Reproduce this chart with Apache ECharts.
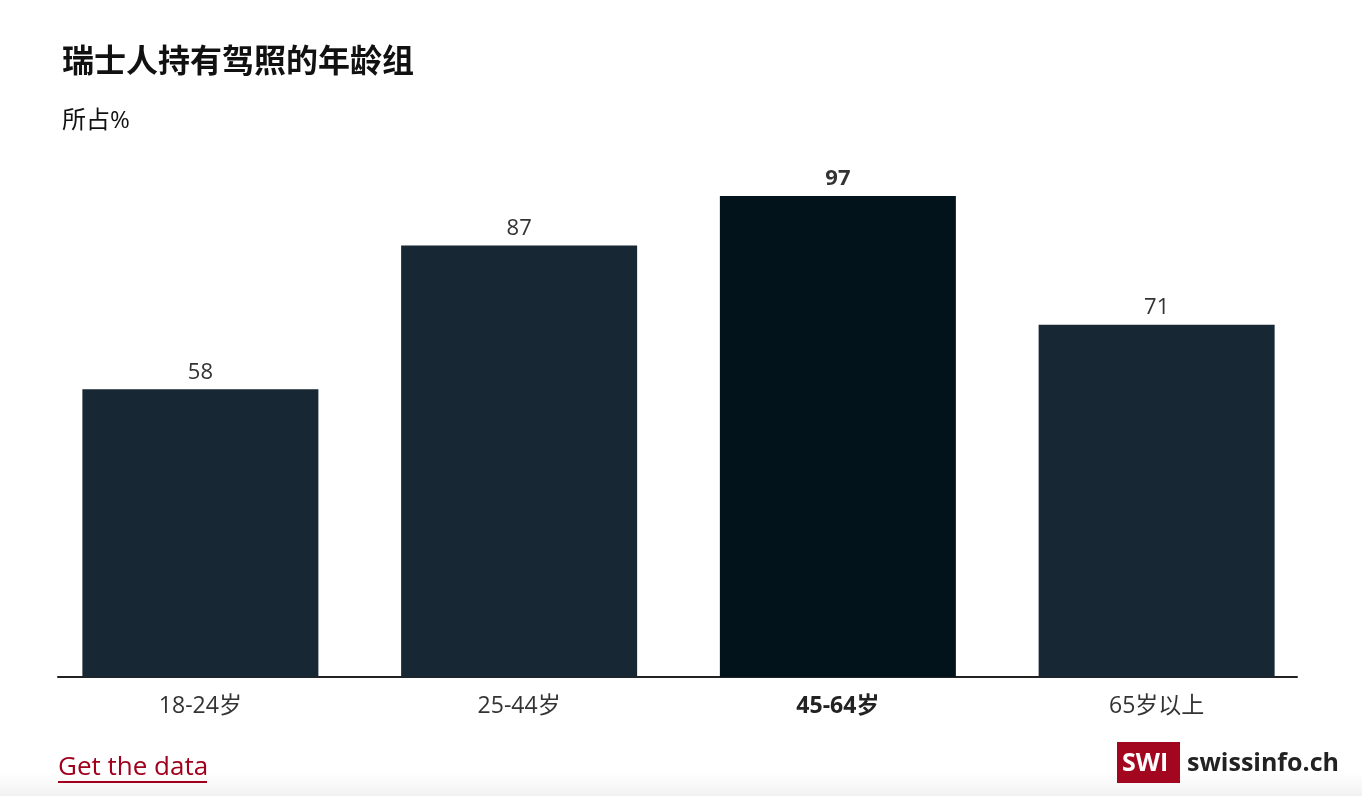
<!DOCTYPE html>
<html>
<head>
<meta charset="utf-8">
<script src="https://cdn.jsdelivr.net/npm/echarts@6/dist/echarts.min.js"></script>
<style>
html,body{margin:0;padding:0;background:#fff;}
#c{width:1362px;height:796px;}
</style>
</head>
<body>
<div id="c"></div>
<script>
const titleText = '瑞士人持有驾照的年龄组';
const subtitleText = '所占%';
const categories = ['18-24岁', '25-44岁', '45-64岁', '65岁以上'];
const values = [58, 87, 97, 71];
const highlightCategory = '45-64岁';
const linkText = 'Get the data';

const FONT = '"Open Sans", "Noto Sans CJK SC", sans-serif';
const barColor = '#172733';
const hiColor = '#03131c';

const chart = echarts.init(document.getElementById('c'), null, {renderer: 'canvas'});

const xData = categories.map(c => c === highlightCategory
  ? {value: c, textStyle: {fontWeight: 'bold', color: '#222'}}
  : c);
const sData = values.map((v, i) => {
  const hi = categories[i] === highlightCategory;
  return {
    value: v,
    itemStyle: {color: hi ? hiColor : barColor},
    label: {fontWeight: hi ? 'bold' : 'normal'}
  };
});

chart.setOption({
  animation: false,
  backgroundColor: '#fff',
  title: [
    {text: titleText, left: 57, top: 42,
     textStyle: {fontFamily: FONT, fontSize: 32, fontWeight: 'bold', color: '#111'}},
    {text: subtitleText, left: 57, top: 104,
     textStyle: {fontFamily: FONT, fontSize: 24, fontWeight: 'normal', color: '#111'}}
  ],
  grid: [
    {left: 41, right: 46, top: 181, bottom: 119},
    {left: 58, right: 65, top: 181, bottom: 119}
  ],
  xAxis: [
    {type: 'category', gridIndex: 0, data: xData,
     axisLine: {show: false}, axisTick: {show: false},
     axisLabel: {fontFamily: FONT, fontSize: 23, color: '#333', margin: 18}},
    {type: 'value', gridIndex: 1, min: 0, max: 1,
     axisLine: {show: true, onZero: false, lineStyle: {color: '#222', width: 2}},
     axisTick: {show: false}, axisLabel: {show: false}, splitLine: {show: false}}
  ],
  yAxis: [
    {type: 'value', gridIndex: 0, min: 0, max: 100, show: false, splitLine: {show: false}},
    {type: 'value', gridIndex: 1, min: 0, max: 1, show: false, splitLine: {show: false}}
  ],
  series: [{
    type: 'bar', xAxisIndex: 0, yAxisIndex: 0,
    data: sData,
    barWidth: 236,
    label: {show: true, position: 'top', distance: 6,
            fontFamily: FONT, fontSize: 22, color: '#333'}
  }],
  graphic: [
    {type: 'rect', left: 0, top: 772, shape: {width: 1362, height: 24}, z: -1,
     style: {fill: new echarts.graphic.LinearGradient(0, 0, 0, 1, [
       {offset: 0, color: '#ffffff'}, {offset: 1, color: '#f2f2f2'}])}},
    {type: 'text', left: 58, top: 755,
     style: {text: linkText, fontFamily: FONT, fontSize: 26, fill: '#a0001c'}},
    {type: 'rect', left: 58, top: 781, shape: {width: 149, height: 2},
     style: {fill: '#a0001c'}},
    {type: 'rect', left: 1117, top: 742, shape: {width: 63, height: 41},
     style: {fill: '#a3071f'}},
    {type: 'text', left: 1122, top: 751,
     style: {text: 'SWI', fontFamily: FONT, fontSize: 25, fontWeight: 'bold', fill: '#fff'}},
    {type: 'text', left: 1187, top: 751,
     style: {text: 'swissinfo.ch', fontFamily: FONT, fontSize: 25, fontWeight: 'bold', fill: '#222'}}
  ]
});
</script>
</body>
</html>
